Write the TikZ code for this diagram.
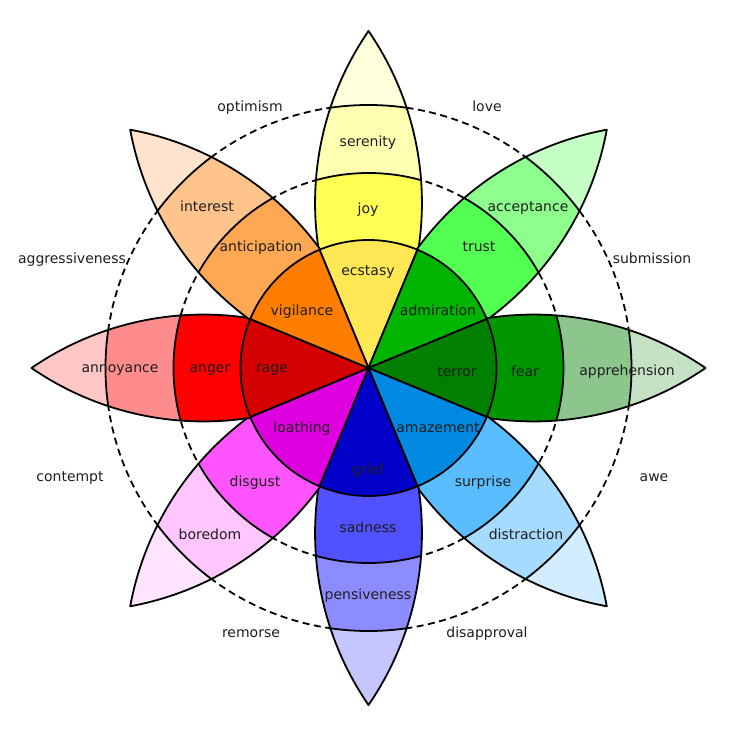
\documentclass[tikz,border=0pt]{standalone}
\usepackage{fontspec}
\setmainfont{DejaVu Sans}
\definecolor{cEcs}{HTML}{FFE854}\definecolor{cJoy}{HTML}{FFFF54}\definecolor{cSer}{HTML}{FFFFB1}\definecolor{cJt}{HTML}{FFFFDB}
\definecolor{cAdm}{HTML}{00B400}\definecolor{cTru}{HTML}{54FF54}\definecolor{cAcc}{HTML}{8CFF8C}\definecolor{cTt}{HTML}{C6FFC6}
\definecolor{cTer}{HTML}{007F00}\definecolor{cFea}{HTML}{009600}\definecolor{cApp}{HTML}{8CC68C}\definecolor{cFt}{HTML}{C6E2C6}
\definecolor{cAma}{HTML}{0089E0}\definecolor{cSur}{HTML}{59BDFF}\definecolor{cDis}{HTML}{A5DBFF}\definecolor{cSt}{HTML}{D2EDFF}
\definecolor{cGri}{HTML}{0000C8}\definecolor{cSad}{HTML}{5151FF}\definecolor{cPen}{HTML}{8C8CFF}\definecolor{cGt}{HTML}{C6C6FF}
\definecolor{cLoa}{HTML}{DE00DE}\definecolor{cDsg}{HTML}{FF54FF}\definecolor{cBor}{HTML}{FFC6FF}\definecolor{cDt}{HTML}{FFE3FF}
\definecolor{cRag}{HTML}{D40000}\definecolor{cAng}{HTML}{FF0000}\definecolor{cAnn}{HTML}{FF8C8C}\definecolor{cAt}{HTML}{FFC6C6}
\definecolor{cVig}{HTML}{FF7D00}\definecolor{cAnt}{HTML}{FFA854}\definecolor{cInt}{HTML}{FFC48C}\definecolor{cNt}{HTML}{FFE3CC}
\newcommand{\petalpath}{(0,337) arc[start angle=34.53,end angle=-34.53,radius=303.4] arc[start angle=214.53,end angle=145.47,radius=303.4] -- cycle}
\newcommand{\mypetal}[5]{%
  \begin{scope}[rotate=#1]
    \begin{scope}
      \clip \petalpath;
      \fill[#5] (0,0) circle (345);
      \fill[#4] (0,0) circle (263);
      \fill[#3] (0,0) circle (195);
      \fill[#2] (0,0) circle (140);
      \draw[edge] (0,0) circle (263);
      \draw[edge] (0,0) circle (195);
    \end{scope}
    \draw[edge] \petalpath;
  \end{scope}}
\newcommand{\mywedge}[2]{%
  \filldraw[edge,fill=#2] (0,0) -- (#1-22.5:128) arc[start angle=#1-22.5,end angle=#1+22.5,radius=128] -- cycle;}
\begin{document}
\begin{tikzpicture}[x=1pt,y=1pt,
  edge/.style={draw=black,line width=1.8pt,line join=round},
  dcircle/.style={draw=black,line width=1.8pt,dash pattern=on 7pt off 4.5pt},
  lbl/.style={font=\fontsize{14}{16}\selectfont,text=black!88,inner sep=0pt,text height=10pt,text depth=3pt,yshift=-1.5pt}]
\useasboundingbox (-368.5,-368) rectangle (367.5,368);
\fill[white] (-368.5,-368) rectangle (367.5,368);
\draw[dcircle] (0,0) circle (195);
\draw[dcircle] (0,0) circle (263);
\mypetal{0}{cJoy}{cJoy}{cSer}{cJt}
\mypetal{-45}{cTru}{cTru}{cAcc}{cTt}
\mypetal{-90}{cFea}{cFea}{cApp}{cFt}
\mypetal{-135}{cSur}{cSur}{cDis}{cSt}
\mypetal{180}{cSad}{cSad}{cPen}{cGt}
\mypetal{135}{cDsg}{cDsg}{cBor}{cDt}
\mypetal{90}{cAng}{cAng}{cAnn}{cAt}
\mypetal{45}{cAnt}{cAnt}{cInt}{cNt}
\mywedge{90}{cEcs}
\mywedge{45}{cAdm}
\mywedge{0}{cTer}
\mywedge{-45}{cAma}
\mywedge{-90}{cGri}
\mywedge{-135}{cLoa}
\mywedge{180}{cRag}
\mywedge{135}{cVig}
% inner labels
\node[lbl] (serenity) at (-0.5,226) {serenity};
\node[lbl] (joy) at (-0.5,159) {joy};
\node[lbl] (ecstasy) at (-0.5,97) {ecstasy};
\node[lbl] (acceptance) at (159.5,161) {acceptance};
\node[lbl] (trust) at (110.5,121) {trust};
\node[lbl] (admiration) at (69.5,57) {admiration};
\node[lbl] (apprehension) at (258.5,-2) {apprehension};
\node[lbl] (fear) at (156.5,-4) {fear};
\node[lbl] (terror) at (88.5,-4) {terror};
\node[lbl] (distraction) at (157.5,-166) {distraction};
\node[lbl] (surprise) at (114.5,-113) {surprise};
\node[lbl] (amazement) at (69.5,-59) {amazement};
\node[lbl] (pensiveness) at (-0.5,-226) {pensiveness};
\node[lbl] (sadness) at (-0.5,-159) {sadness};
\node[lbl] (grief) at (-0.5,-101) {grief};
\node[lbl] (boredom) at (-158.5,-166) {boredom};
\node[lbl] (disgust) at (-113.5,-113) {disgust};
\node[lbl] (loathing) at (-66.5,-59) {loathing};
\node[lbl] (annoyance) at (-248.5,0) {annoyance};
\node[lbl] (anger) at (-158.5,0) {anger};
\node[lbl] (rage) at (-96.5,0) {rage};
\node[lbl] (interest) at (-161.5,161) {interest};
\node[lbl] (anticipation) at (-107.5,121) {anticipation};
\node[lbl] (vigilance) at (-66.5,57) {vigilance};
% outer labels
\node[lbl] (optimism) at (-118.5,261) {optimism};
\node[lbl] (love) at (118.5,261) {love};
\node[lbl] (submission) at (283.5,109) {submission};
\node[lbl] (awe) at (285.5,-108) {awe};
\node[lbl] (disapproval) at (118.5,-264) {disapproval};
\node[lbl] (remorse) at (-117.5,-264) {remorse};
\node[lbl] (contempt) at (-298.5,-108) {contempt};
\node[lbl] (aggressiveness) at (-296.5,109) {aggressiveness};
\end{tikzpicture}
\end{document}
